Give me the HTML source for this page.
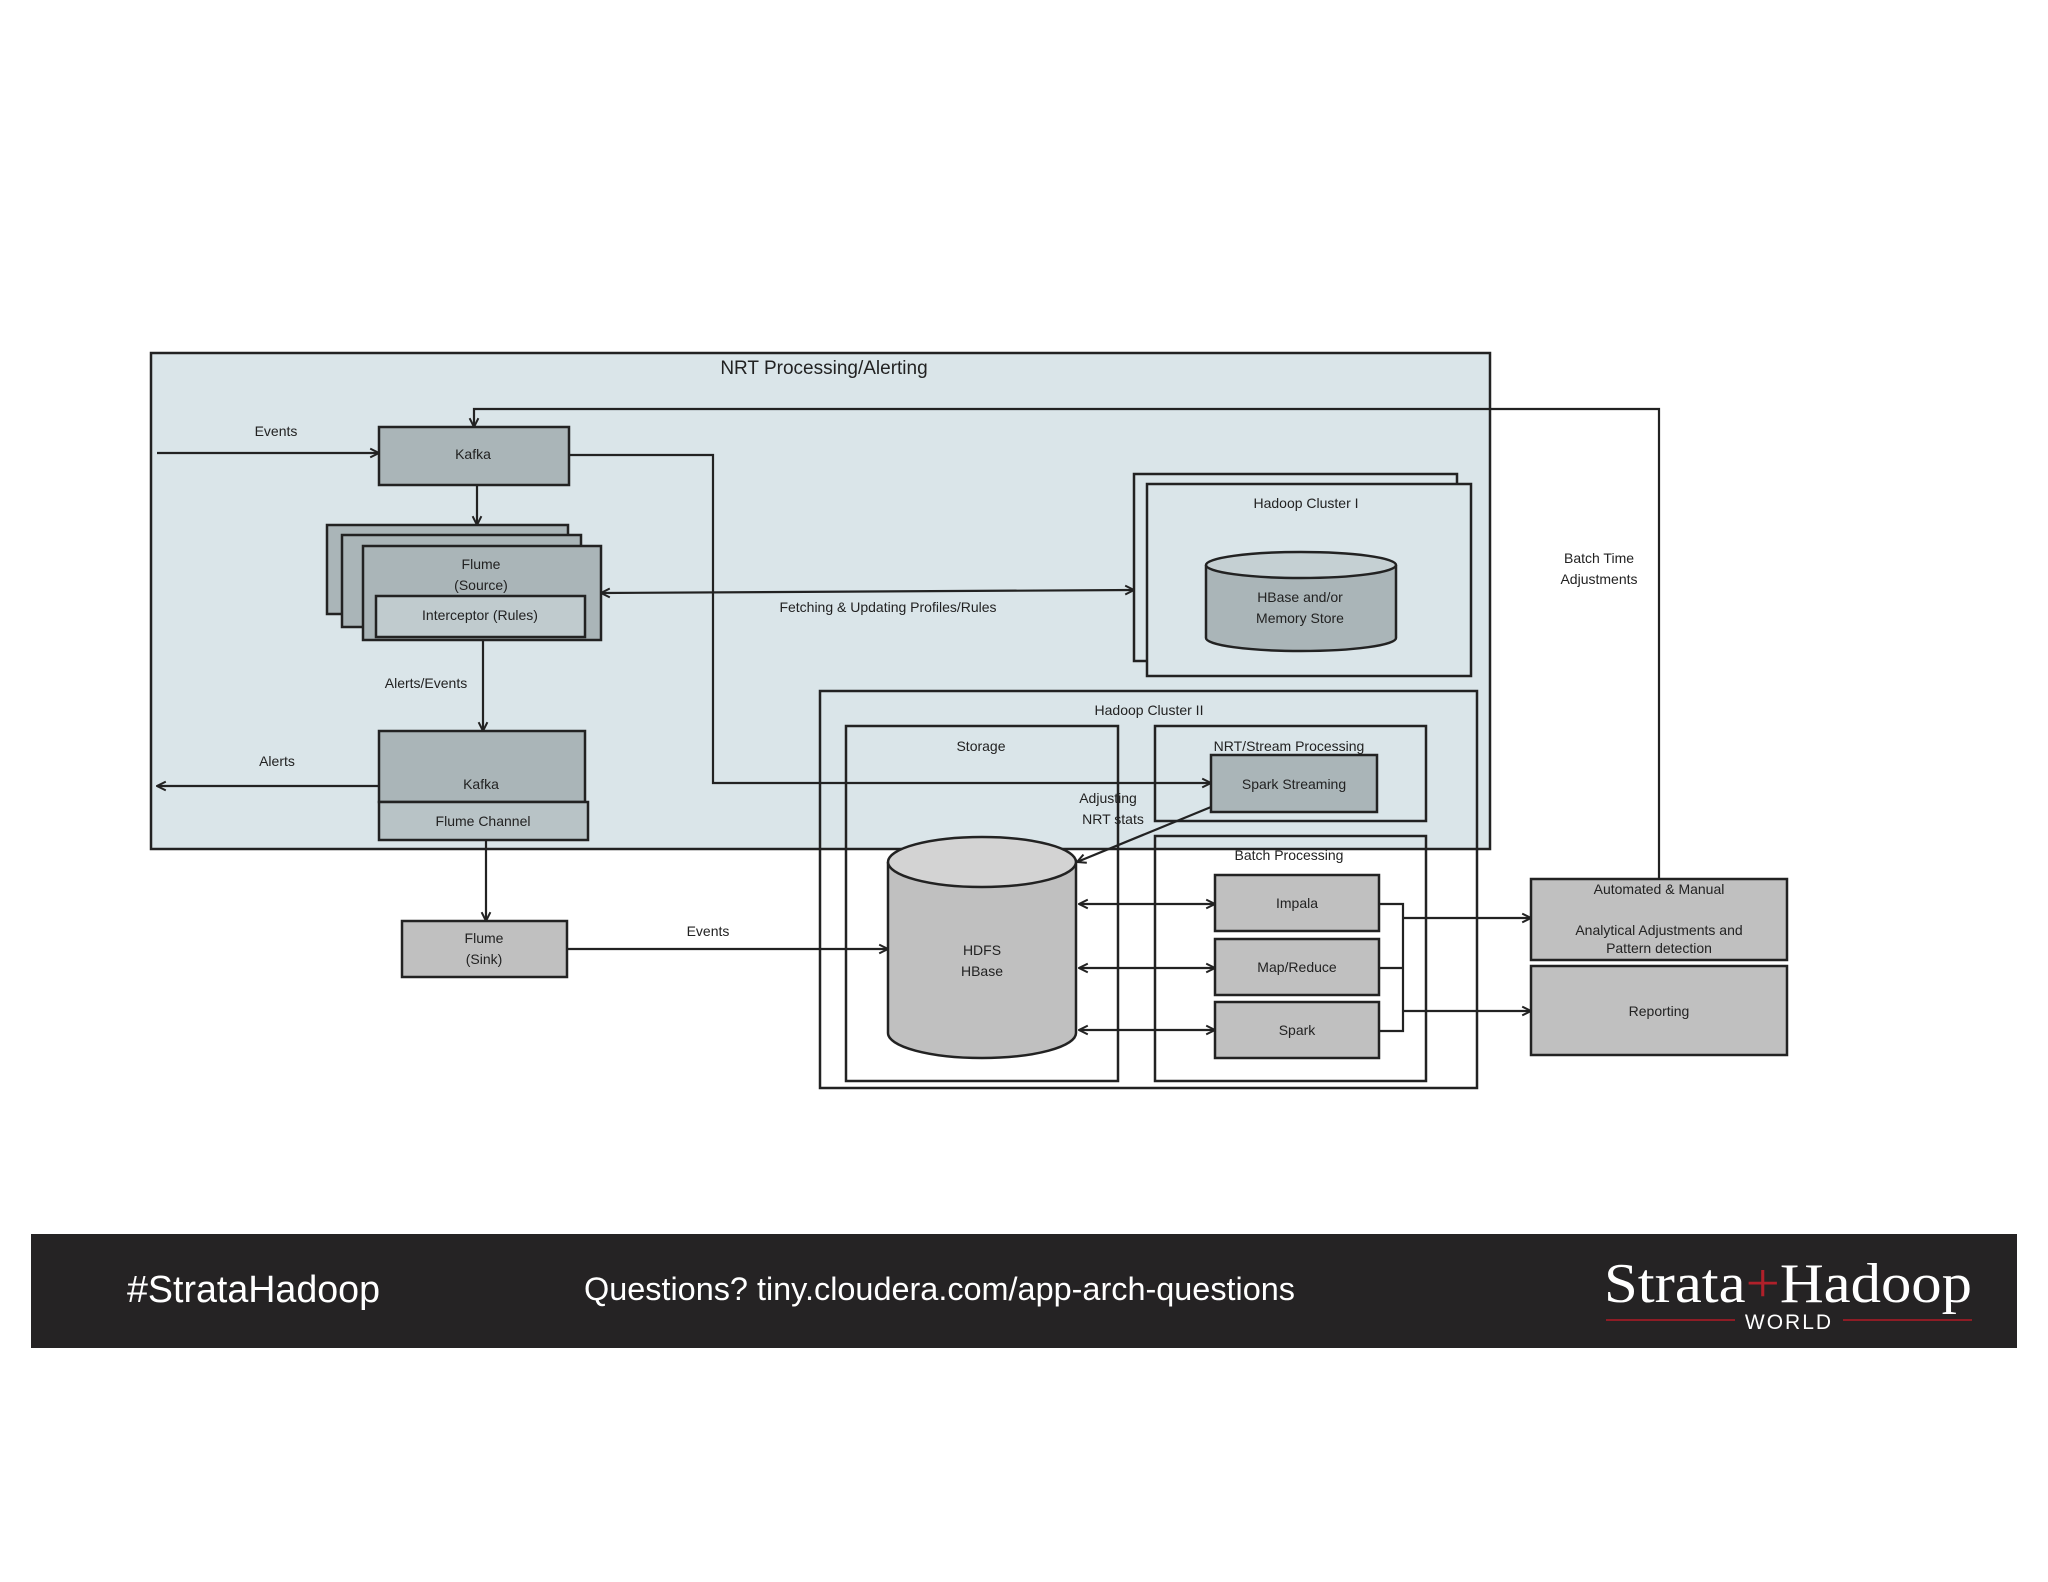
<!DOCTYPE html>
<html><head><meta charset="utf-8"><style>
html,body{margin:0;padding:0;background:#fff}
svg{display:block}
text{font-family:"Liberation Sans",sans-serif;fill:#222}
.l{font-size:14px;text-anchor:middle}
</style></head><body>
<svg width="2048" height="1582" viewBox="0 0 2048 1582" xmlns="http://www.w3.org/2000/svg">
<defs>
<marker id="a" viewBox="0 0 10 10" refX="9" refY="5" markerWidth="11" markerHeight="11" orient="auto-start-reverse" markerUnits="userSpaceOnUse"><path d="M1,1 L9,5 L1,9" fill="none" stroke="#222" stroke-width="1.8"/></marker>
</defs>
<g stroke="#222" stroke-width="2.5">
<rect x="151" y="353" width="1339" height="496" fill="#dae5e9"/>
</g>
<text x="824" y="374" style="font-size:19px;text-anchor:middle">NRT Processing/Alerting</text>
<g stroke="#222" stroke-width="2.5" fill="none">
<rect x="1134" y="474" width="323" height="187" fill="#dae5e9"/>
<rect x="1147" y="484" width="324" height="192" fill="#dae5e9"/>
<rect x="820" y="691" width="657" height="397"/>
<rect x="846" y="726" width="272" height="355"/>
<rect x="1155" y="726" width="271" height="95"/>
<rect x="1155" y="836" width="271" height="245"/>
<rect x="379" y="427" width="190" height="58" fill="#aab5b8"/>
<rect x="327" y="525" width="241" height="89" fill="#aab5b8"/>
<rect x="342" y="535" width="239" height="92" fill="#aab5b8"/>
<rect x="363" y="546" width="238" height="94" fill="#aab5b8"/>
<rect x="376" y="596" width="209" height="41" fill="#c0cbce"/>
<rect x="379" y="731" width="206" height="71" fill="#aab5b8"/>
<rect x="379" y="802" width="209" height="38" fill="#b8c3c6"/>
<rect x="402" y="921" width="165" height="56" fill="#c0c0c0"/>
<rect x="1211" y="755" width="166" height="57" fill="#aab5b8"/>
<rect x="1215" y="875" width="164" height="56" fill="#c0c0c0"/>
<rect x="1215" y="939" width="164" height="56" fill="#c0c0c0"/>
<rect x="1215" y="1002" width="164" height="56" fill="#c0c0c0"/>
<rect x="1531" y="879" width="256" height="81" fill="#c0c0c0"/>
<rect x="1531" y="966" width="256" height="89" fill="#c0c0c0"/>
<path d="M1206,565 L1206,638 A95,13 0 0 0 1396,638 L1396,565" fill="#aab5b8"/>
<ellipse cx="1301" cy="565" rx="95" ry="13" fill="#c5d0d3"/>
<path d="M888,862 L888,1033 A94,25 0 0 0 1076,1033 L1076,862" fill="#c0c0c0"/>
<ellipse cx="982" cy="862" rx="94" ry="25" fill="#d3d3d3"/>
</g>
<g stroke="#222" stroke-width="2.2" fill="none">
<path d="M157,453 L379,453" marker-end="url(#a)"/>
<path d="M1659,879 L1659,409 L474,409 L474,427" marker-end="url(#a)"/>
<path d="M569,455 L713,455 L713,783 L1211,783" marker-end="url(#a)"/>
<path d="M477,485 L477,525" marker-end="url(#a)"/>
<path d="M601,593 L1134,590" marker-start="url(#a)" marker-end="url(#a)"/>
<path d="M483,640 L483,731" marker-end="url(#a)"/>
<path d="M379,786 L157,786" marker-end="url(#a)"/>
<path d="M486,840 L486,921" marker-end="url(#a)"/>
<path d="M567,949 L888,949" marker-end="url(#a)"/>
<path d="M1211,807 L1077,862" marker-end="url(#a)"/>
<path d="M1079,904 L1215,904" marker-start="url(#a)" marker-end="url(#a)"/>
<path d="M1079,968 L1215,968" marker-start="url(#a)" marker-end="url(#a)"/>
<path d="M1079,1030 L1215,1030" marker-start="url(#a)" marker-end="url(#a)"/>
<path d="M1379,904 L1403,904 L1403,1031 L1379,1031 M1379,968 L1403,968"/>
<path d="M1403,918 L1531,918" marker-end="url(#a)"/>
<path d="M1403,1011 L1531,1011" marker-end="url(#a)"/>
</g>
<g class="l">
<text class="l" x="276" y="436">Events</text>
<text class="l" x="473" y="459">Kafka</text>
<text class="l" x="481" y="569">Flume</text>
<text class="l" x="481" y="590">(Source)</text>
<text class="l" x="480" y="620">Interceptor (Rules)</text>
<text class="l" x="888" y="612">Fetching &amp; Updating Profiles/Rules</text>
<text class="l" x="1306" y="508">Hadoop Cluster I</text>
<text class="l" x="1300" y="602">HBase and/or</text>
<text class="l" x="1300" y="623">Memory Store</text>
<text class="l" x="1599" y="563">Batch Time</text>
<text class="l" x="1599" y="584">Adjustments</text>
<text class="l" x="426" y="688">Alerts/Events</text>
<text class="l" x="277" y="766">Alerts</text>
<text class="l" x="481" y="789">Kafka</text>
<text class="l" x="483" y="826">Flume Channel</text>
<text class="l" x="484" y="943">Flume</text>
<text class="l" x="484" y="964">(Sink)</text>
<text class="l" x="708" y="936">Events</text>
<text class="l" x="1149" y="715">Hadoop Cluster II</text>
<text class="l" x="981" y="751">Storage</text>
<text class="l" x="1289" y="751">NRT/Stream Processing</text>
<text class="l" x="1294" y="789">Spark Streaming</text>
<text class="l" x="1108" y="803">Adjusting</text>
<text class="l" x="1113" y="824">NRT stats</text>
<text class="l" x="1289" y="860">Batch Processing</text>
<text class="l" x="982" y="955">HDFS</text>
<text class="l" x="982" y="976">HBase</text>
<text class="l" x="1297" y="908">Impala</text>
<text class="l" x="1297" y="972">Map/Reduce</text>
<text class="l" x="1297" y="1035">Spark</text>
<text class="l" x="1659" y="894">Automated &amp; Manual</text>
<text class="l" x="1659" y="935">Analytical Adjustments and</text>
<text class="l" x="1659" y="953">Pattern detection</text>
<text class="l" x="1659" y="1016">Reporting</text>
</g>
<rect x="31" y="1234" width="1986" height="114" fill="#252324"/>
<text x="127" y="1302" textLength="253" lengthAdjust="spacingAndGlyphs" style="font-size:38px;fill:#fff">#StrataHadoop</text>
<text x="584" y="1300" textLength="711" lengthAdjust="spacingAndGlyphs" style="font-size:32px;fill:#fff">Questions? tiny.cloudera.com/app-arch-questions</text>
<text x="1604" y="1302" textLength="368" lengthAdjust="spacingAndGlyphs" style="font-family:'Liberation Serif',serif;font-size:56px;fill:#fff">Strata<tspan style="fill:#b0202a">+</tspan>Hadoop</text>
<line x1="1606" y1="1320" x2="1735" y2="1320" stroke="#8e1c25" stroke-width="2"/>
<line x1="1843" y1="1320" x2="1972" y2="1320" stroke="#8e1c25" stroke-width="2"/>
<text x="1789" y="1329" style="font-size:21px;fill:#fff;text-anchor:middle;letter-spacing:2px">WORLD</text>
</svg>
</body></html>
